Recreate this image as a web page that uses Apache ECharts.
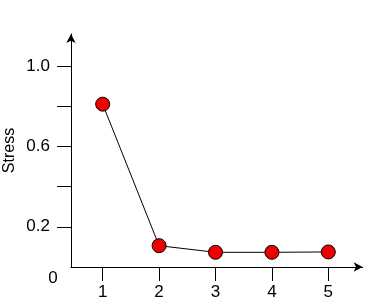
<!DOCTYPE html>
<html>
<head>
<meta charset="utf-8">
<style>html,body{margin:0;padding:0;background:#fff;}#c{width:376px;height:307px;}</style>
<script src="https://cdn.jsdelivr.net/npm/echarts@6/dist/echarts.min.js"></script>
</head>
<body>
<div id="c"></div>
<script>
var dimensions = [1, 2, 3, 4, 5];
var stress = [0.81, 0.106, 0.073, 0.073, 0.075];
var yTicks = [0.2, 0.4, 0.6, 0.8, 1.0];
var yLabels = [0.2, 0.6, 1.0];
var originLabel = '0';
var yName = 'Stress';

var chart = echarts.init(document.getElementById('c'), null, {renderer: 'canvas'});
var font = 'Liberation Sans, Arial, sans-serif';
chart.setOption({
  animation: false,
  backgroundColor: '#fff',
  grid: {left: 71, right: 13.3, top: 34, bottom: 40, containLabel: false, outerBoundsMode: 'none'},
  xAxis: {
    type: 'value', min: 0.438, max: 5.61,
    axisLine: {show: true, symbol: ['none', 'arrow'], symbolSize: [7, 9], lineStyle: {color: '#000', width: 1}},
    axisTick: {show: true, customValues: dimensions, length: 14, inside: false, lineStyle: {color: '#000', width: 1}},
    axisLabel: {customValues: dimensions, margin: 17, fontSize: 17, color: '#000', fontFamily: font},
    splitLine: {show: false}
  },
  yAxis: {
    type: 'value', min: 0, max: 1.159,
    name: yName, nameLocation: 'middle', nameGap: 53, nameMoveOverlap: false,
    nameTextStyle: {fontSize: 16, color: '#000', fontFamily: font},
    axisLine: {show: true, symbol: ['none', 'arrow'], symbolSize: [7, 9], lineStyle: {color: '#000', width: 1}},
    axisTick: {show: true, customValues: yTicks, length: 14, inside: false, lineStyle: {color: '#000', width: 1}},
    axisLabel: {customValues: yLabels, margin: 21, fontSize: 17, color: '#000', fontFamily: font,
      formatter: function (v) { return v.toFixed(1); }},
    splitLine: {show: false}
  },
  graphic: [{
    type: 'text', x: 53, y: 278,
    style: {text: originLabel, fontSize: 17, fill: '#000', fontFamily: font, align: 'center', verticalAlign: 'middle'}
  }],
  series: [{
    type: 'line',
    data: dimensions.map(function (d, i) { return [d, stress[i]]; }),
    symbol: 'circle', symbolSize: 14,
    itemStyle: {color: '#ee0000', borderColor: '#000', borderWidth: 1},
    lineStyle: {color: '#000', width: 1}
  }]
});
</script>
</body>
</html>
